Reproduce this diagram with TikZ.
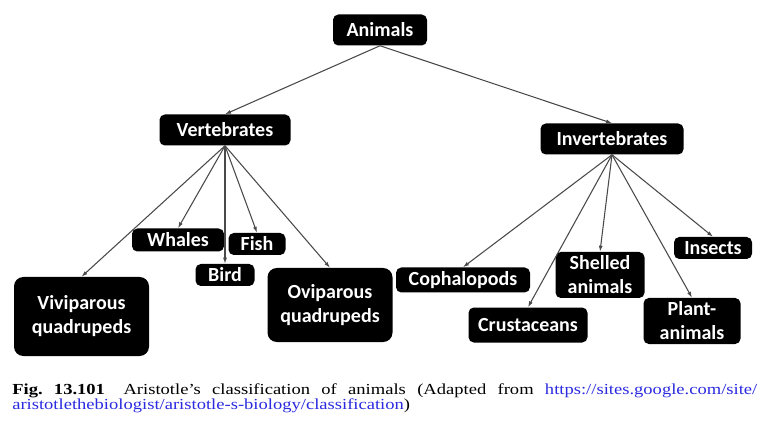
\documentclass[tikz,border=0pt]{standalone}
\usepackage{fontspec}
\setmainfont{Liberation Serif}
\newfontfamily\boxfont{Carlito}
\usetikzlibrary{arrows.meta, positioning}
\definecolor{mline}{HTML}{4A4A4A}
\definecolor{mlink}{HTML}{2A2AE0}
\tikzset{
  tbox/.style={fill=black, rounded corners=4pt, text=white, inner sep=0pt,
               align=center, font=\boxfont\bfseries\fontsize{15}{18}\selectfont},
  bigbox/.style={tbox, rounded corners=7pt},
  arr/.style={-{Latex[length=4.5pt,width=3pt]}, mline, line width=0.8pt},
}

\begin{document}
\begin{tikzpicture}[x=0.75pt, y=-0.75pt]
  \useasboundingbox (0,0) rectangle (777,434);

  % top levels
  \node[tbox, minimum width=70.5pt, minimum height=23.25pt] (animals) at (380,30) {Animals};
  \node[tbox, minimum width=98.25pt, minimum height=23.25pt] (vert) at (225,130) {Vertebrates};
  \node[tbox, minimum width=107.25pt, minimum height=23.25pt] (invert) at (612,139) {Invertebrates};

  % vertebrates
  \node[bigbox, minimum width=101.25pt, minimum height=59.25pt] (vivi) at (81.5,316.5) {Viviparous\\quadrupeds};
  \node[tbox, minimum width=69pt, minimum height=17.25pt] (whales) at (178,240) {Whales};
  \node[tbox, minimum width=44.25pt, minimum height=16.5pt] (bird) at (225,275) {Bird};
  \node[tbox, minimum width=42.75pt, minimum height=16.5pt] (fish) at (257,244) {Fish};
  \node[bigbox, minimum width=93.75pt, minimum height=55.5pt] (ovi) at (330,305) {Oviparous\\quadrupeds};

  % invertebrates
  \node[tbox, minimum width=100.5pt, minimum height=18.75pt] (copha) at (463,280) {Cophalopods};
  \node[tbox, minimum width=89.25pt, minimum height=26.25pt] (crust) at (528,325) {Crustaceans};
  \node[tbox, minimum width=66.75pt, minimum height=34.5pt] (shell) at (600,275) {Shelled\\animals};
  \node[tbox, minimum width=72.75pt, minimum height=34.5pt] (plant) at (692,321) {Plant-\\animals};
  \node[tbox, minimum width=58.5pt, minimum height=16.5pt] (insects) at (713,248) {Insects};

  \draw[arr] (animals.south) -- (vert.north);
  \draw[arr] (animals.south) -- (invert.north);
  \foreach \c in {vivi, whales, bird, fish, ovi}
    \draw[arr] (vert.south) -- (\c.north);
  \foreach \c in {copha, crust, shell, plant, insects}
    \draw[arr] (invert.south) -- (\c.north);

  % caption
  \node[anchor=base west, inner sep=0pt] (caption) at (12,394)
    {\scalebox{1.21}[1]{\parbox[t]{461.8pt}{\fontsize{11.5}{11.25}\selectfont
      \textbf{Fig.\ 13.101}\quad Aristotle’s classification of animals (Adapted from
      {\color{mlink}https://sites.google.com/site/}\linebreak
      {\color{mlink}aristotlethebiologist/aristotle-s-biology/classification})}}};
\end{tikzpicture}
\end{document}
